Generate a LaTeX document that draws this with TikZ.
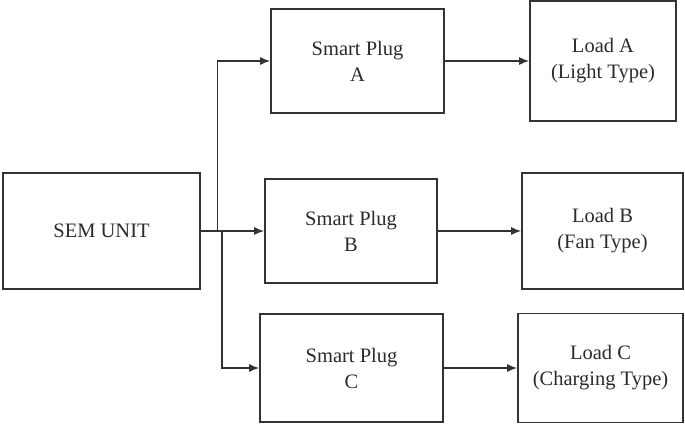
\documentclass[tikz,border=0pt]{standalone}
\usepackage{fontspec}
\setmainfont{Liberation Serif}
\usetikzlibrary{arrows.meta}
\definecolor{ln}{HTML}{333333}
\definecolor{tx}{HTML}{2A2A2A}
\tikzset{
  blk/.style={draw=ln, line width=1.6pt, align=center, text=tx, inner sep=0pt,
    font=\fontsize{20.5}{26}\selectfont},
  conn/.style={draw=ln, line width=1.5pt, -{Latex[length=10pt,width=8pt]}},
  plain/.style={draw=ln, line width=1.5pt}
}
\begin{document}
\begin{tikzpicture}[x=1pt,y=-1pt]
\useasboundingbox (0,0) rectangle (685,425);
\node[blk, minimum width=197pt, minimum height=116pt] (sem) at (101.5,231) {SEM UNIT};
\node[blk, minimum width=173pt, minimum height=104pt] (pa) at (357.5,61) {Smart Plug\\A};
\node[blk, minimum width=172pt, minimum height=104pt] (pb) at (351,231) {Smart Plug\\B};
\node[blk, minimum width=183pt, minimum height=108pt] (pc) at (351.5,368) {Smart Plug\\C};
\node[blk, minimum width=146pt, minimum height=120pt] (la) at (603,61) {Load A\\(Light Type)};
\node[blk, minimum width=161pt, minimum height=116pt] (lb) at (602.5,231) {Load B\\(Fan Type)};
\node[blk, minimum width=165pt, minimum height=109pt] (lc) at (600.5,368) {Load C\\(Charging Type)};
\coordinate (j1) at (217.5,231);
\coordinate (j2) at (222,231);
\draw[plain] (sem.east) -- (j2);
\draw[conn] (j1) |- (pa.west);
\draw[conn] (sem.east) -- (pb.west |- sem.east);
\draw[conn] (j2) |- (pc.west);
\draw[conn] (pa.east) -- (la.west |- pa.east);
\draw[conn] (pb.east) -- (lb.west |- pb.east);
\draw[conn] (pc.east) -- (lc.west |- pc.east);
\end{tikzpicture}
\end{document}
